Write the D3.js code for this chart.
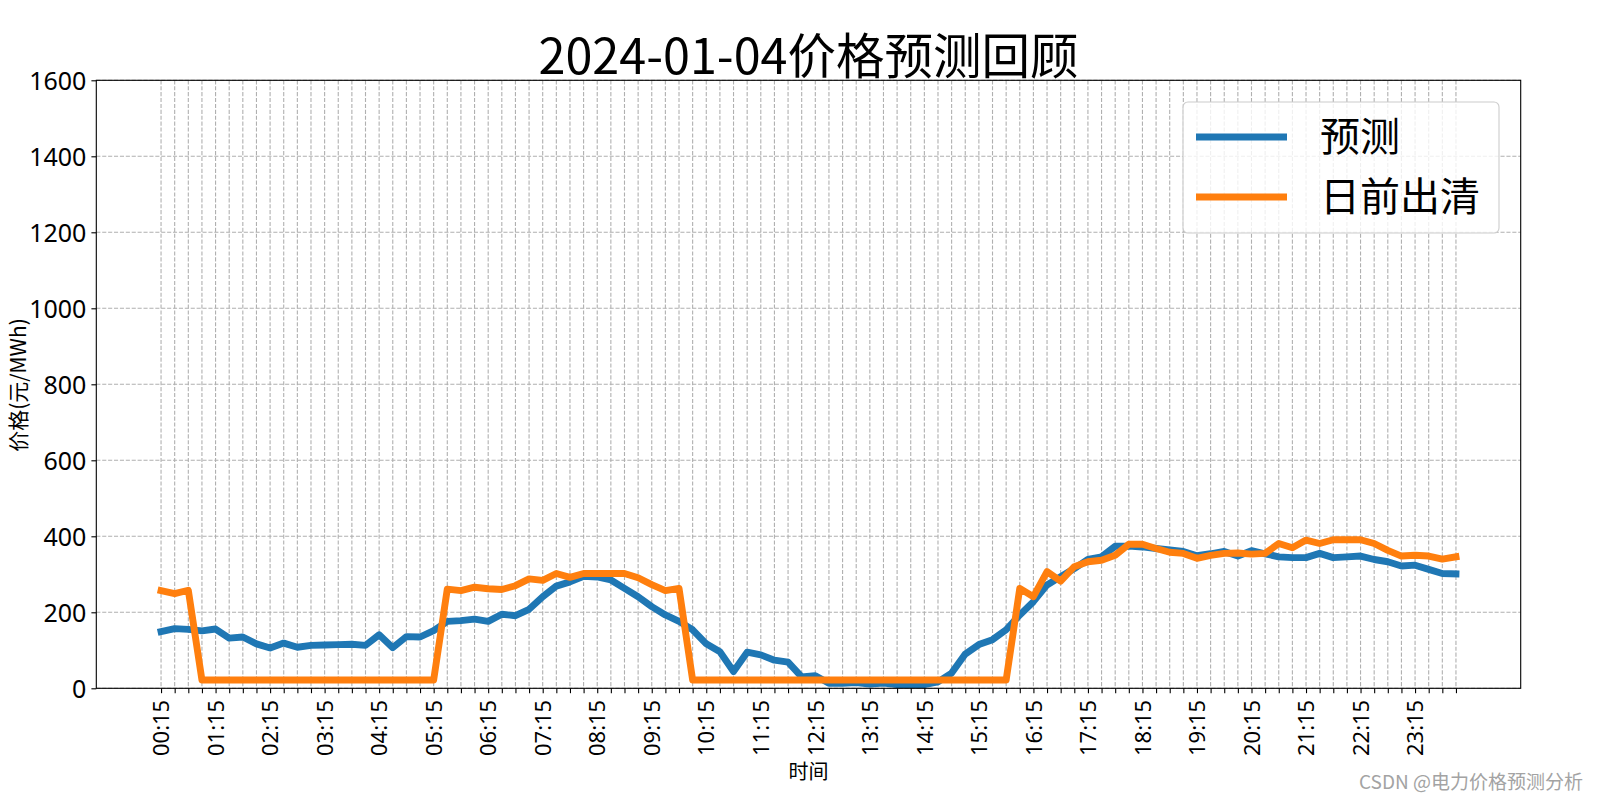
<!DOCTYPE html>
<html>
<head>
<meta charset="utf-8">
<script src="https://cdn.jsdelivr.net/npm/d3@7"></script>
<style>
  body { margin: 0; background: #fff; }
  svg { display: block; }
  text { font-family: "Noto Sans CJK SC", "Noto Sans", sans-serif; fill: #000; }
</style>
</head>
<body>
<svg id="chart" width="1600" height="800"></svg>
<script>
// ---------------- data ----------------
const times = [
  "00:15","00:30","00:45","01:00","01:15","01:30","01:45","02:00",
  "02:15","02:30","02:45","03:00","03:15","03:30","03:45","04:00",
  "04:15","04:30","04:45","05:00","05:15","05:30","05:45","06:00",
  "06:15","06:30","06:45","07:00","07:15","07:30","07:45","08:00",
  "08:15","08:30","08:45","09:00","09:15","09:30","09:45","10:00",
  "10:15","10:30","10:45","11:00","11:15","11:30","11:45","12:00",
  "12:15","12:30","12:45","13:00","13:15","13:30","13:45","14:00",
  "14:15","14:30","14:45","15:00","15:15","15:30","15:45","16:00",
  "16:15","16:30","16:45","17:00","17:15","17:30","17:45","18:00",
  "18:15","18:30","18:45","19:00","19:15","19:30","19:45","20:00",
  "20:15","20:30","20:45","21:00","21:15","21:30","21:45","22:00",
  "22:15","22:30","22:45","23:00","23:15","23:30","23:45","24:00"
];

const xTickLabels = [
  "00:15","01:15","02:15","03:15","04:15","05:15","06:15","07:15",
  "08:15","09:15","10:15","11:15","12:15","13:15","14:15","15:15",
  "16:15","17:15","18:15","19:15","20:15","21:15","22:15","23:15"
];

const predicted = [
  149,157,155,151,156,132,135,117,106,119,108,113,114,115,116,113,
  141,107,136,135,152,176,178,182,176,195,191,208,241,269,280,295,
  293,285,263,241,215,193,176,154,117, 96, 44, 95, 88, 74, 69, 30,
   33, 13, 13, 15, 11, 14, 10, 10, 10, 17, 40, 90,115,128,154,193,
  228,272,294,315,339,346,374,374,372,368,364,360,349,354,360,348,
  362,354,346,344,344,355,344,346,348,339,333,322,324,313,302,301
];

const dayAhead = [
  257,249,258, 22, 22, 22, 22, 22, 22, 22, 22, 22, 22, 22, 22, 22,
   22, 22, 22, 22, 22,261,257,266,262,260,270,288,284,302,292,302,
  302,302,302,291,273,257,263, 22, 22, 22, 22, 22, 22, 22, 22, 22,
   22, 22, 22, 22, 22, 22, 22, 22, 22, 22, 22, 22, 22, 22, 22,263,
  241,307,282,320,333,337,350,379,379,368,358,355,342,350,355,356,
  353,355,381,370,390,381,391,391,391,381,363,348,350,348,340,346
];

const yTicks = [0, 200, 400, 600, 800, 1000, 1200, 1400, 1600];
const seriesNames = ["预测", "日前出清"];
const seriesColors = ["#1f77b4", "#ff7f0e"];

// ---------------- layout ----------------
const svg = d3.select("#chart");
const L = 96.3, R = 1520.7, T = 80.3, B = 688.3;
const n = times.length;
const pad = (n - 1) * 0.05;

const x = d3.scaleLinear().domain([-pad, n - 1 + pad]).range([L, R]);
const y = d3.scaleLinear().domain([0, 1600]).range([B, T]);

// grid
const grid = svg.append("g");
grid.selectAll("line.h").data(yTicks).join("line")
  .attr("x1", L).attr("x2", R)
  .attr("y1", d => y(d)).attr("y2", d => y(d))
  .attr("stroke", "#b0b0b0").attr("stroke-width", 1.1)
  .attr("stroke-dasharray", "4.1,1.8");
grid.selectAll("line.v").data(d3.range(n)).join("line")
  .attr("x1", d => x(d)).attr("x2", d => x(d))
  .attr("y1", T).attr("y2", B)
  .attr("stroke", "#b0b0b0").attr("stroke-width", 1.1)
  .attr("stroke-dasharray", "4.1,1.8");

// lines
const series = [predicted, dayAhead];
const lineGen = d3.line().x((d, i) => x(i)).y(d => y(d));
series.forEach((s, k) => {
  svg.append("path").datum(s)
    .attr("d", lineGen)
    .attr("fill", "none")
    .attr("stroke", seriesColors[k])
    .attr("stroke-width", 6.9)
    .attr("stroke-linejoin", "round")
    .attr("stroke-linecap", "square");
});

// axes
const yAxis = svg.append("g").attr("transform", `translate(${L},0)`)
  .call(d3.axisLeft(y).tickValues(yTicks).tickSize(4.9).tickPadding(5)
    .tickFormat(d3.format("d")));
yAxis.select(".domain").remove();
yAxis.selectAll("line").attr("stroke", "#000").attr("stroke-width", 1.1);
yAxis.selectAll("text").style("font-size", "25px").attr("dy", "0.35em")
  .style("font-family", "'Noto Sans', sans-serif");

const xAxis = svg.append("g").attr("transform", `translate(0,${B})`)
  .call(d3.axisBottom(x).tickValues(d3.range(n)).tickSize(4.9)
    .tickFormat(i => (i % 4 === 0 ? xTickLabels[i / 4] : "")));
xAxis.select(".domain").remove();
xAxis.selectAll("line").attr("stroke", "#000").attr("stroke-width", 1.1);
xAxis.selectAll("text")
  .attr("transform", "rotate(-90)")
  .attr("x", -11.5).attr("y", 0).attr("dy", "0.35em")
  .style("text-anchor", "end")
  .style("font-size", "22px")
  .style("font-family", "'Noto Sans', sans-serif");

// frame
svg.append("rect").attr("x", L).attr("y", T).attr("width", R - L).attr("height", B - T)
  .attr("fill", "none").attr("stroke", "#000").attr("stroke-width", 1.1);

// title
svg.append("text").attr("x", (L + R) / 2).attr("y", 74)
  .attr("text-anchor", "middle").style("font-size", "48.5px")
  .text("2024-01-04价格预测回顾");

// axis labels
svg.append("text").attr("transform", "translate(26,385) rotate(-90)")
  .attr("text-anchor", "middle").style("font-size", "21px")
  .text("价格(元/MWh)");
svg.append("text").attr("x", (L + R) / 2).attr("y", 779)
  .attr("text-anchor", "middle").style("font-size", "20px")
  .text("时间");

// legend
const lg = svg.append("g");
lg.append("rect").attr("x", 1183).attr("y", 102).attr("width", 316).attr("height", 131)
  .attr("rx", 5).attr("fill", "#fff").attr("fill-opacity", 0.8)
  .attr("stroke", "#cccccc").attr("stroke-width", 1.1);
seriesNames.forEach((name, k) => {
  const yy = 137 + k * 60;
  lg.append("line").attr("x1", 1196).attr("x2", 1287).attr("y1", yy).attr("y2", yy)
    .attr("stroke", seriesColors[k]).attr("stroke-width", 6.9);
  lg.append("text").attr("x", 1320).attr("y", yy).attr("dy", "0.36em")
    .style("font-size", "40px").text(name);
});

// watermark
svg.append("text").attr("x", 1583).attr("y", 789)
  .attr("text-anchor", "end").style("font-size", "19px")
  .style("fill", "#a3a3a3")
  .text("CSDN @电力价格预测分析");
</script>
</body>
</html>
